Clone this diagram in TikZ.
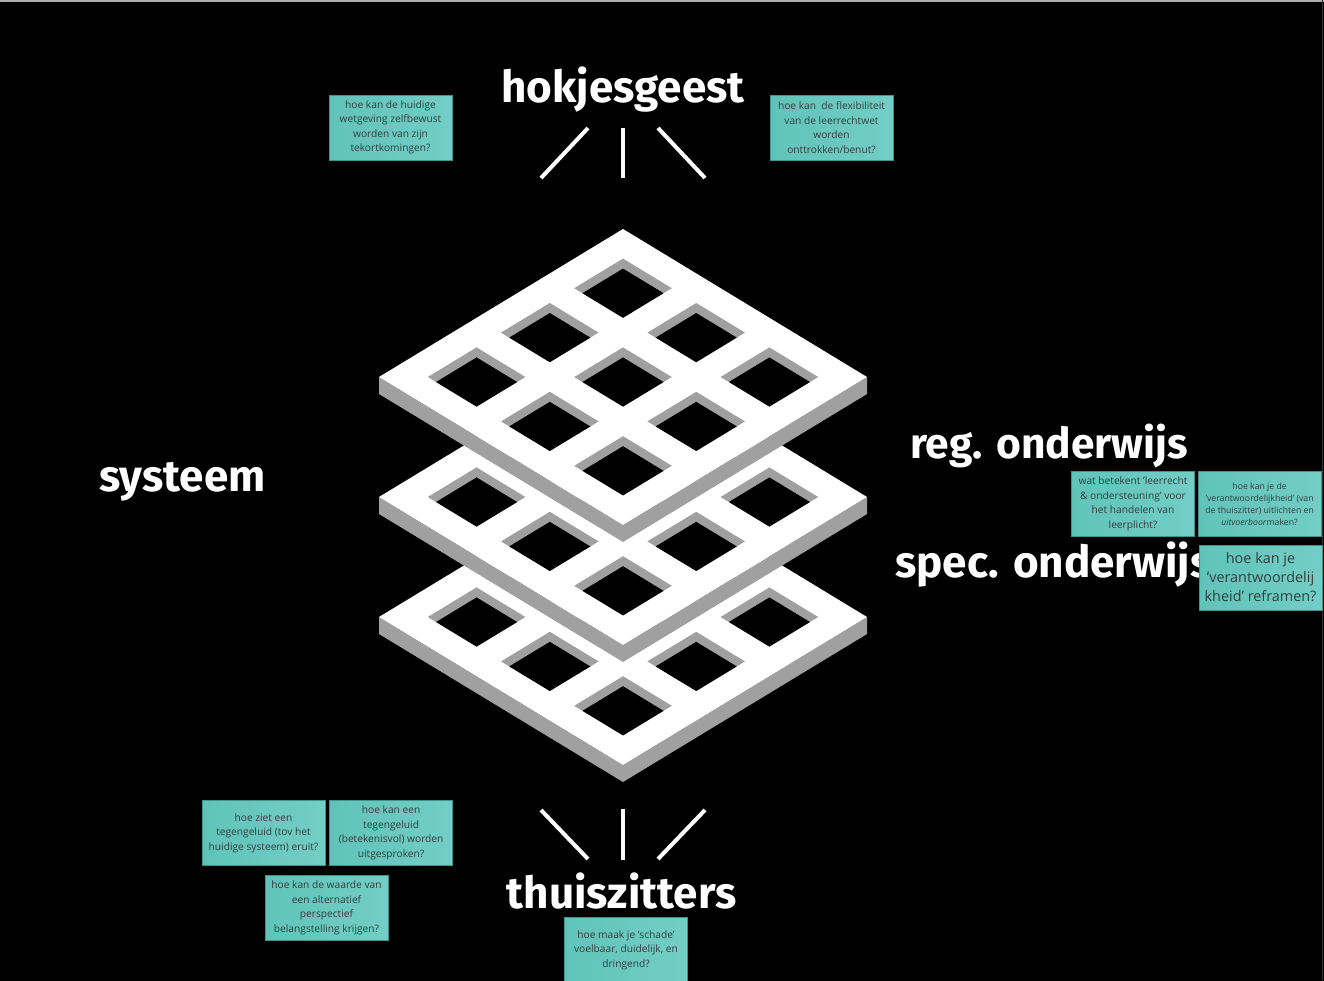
\documentclass[tikz,border=0pt]{standalone}
\usepackage{fontspec}
\setmainfont{Open Sans}
\newfontfamily\kopfont{Fira Sans}
\usepackage{tikz}
\usetikzlibrary{positioning,calc}
\definecolor{notekleur}{RGB}{96,195,186}
\definecolor{notelicht}{RGB}{114,206,198}
\definecolor{noterand}{RGB}{62,148,140}
\definecolor{notetekst}{RGB}{52,62,62}
\definecolor{wand}{RGB}{160,160,160}
\newcommand{\laag}[1]{%
\begin{scope}[shift={(623,229+#1)},x={(244pt,-148pt)},y={(-244pt,-148pt)}]
\fill[wand] (0,1) -- (1,1) -- (1,0) -- ([yshift=-17pt]1,0) -- ([yshift=-17pt]1,1) -- ([yshift=-17pt]0,1) -- cycle;
\fill[white] (0,0) -- (1,0) -- (1,1) -- (0,1) -- cycle;
\foreach \i in {0,1,2}{\foreach \j in {0,1,2}{
\pgfmathsetmacro{\ua}{0.1+0.3*\i}\pgfmathsetmacro{\ub}{\ua+0.2}
\pgfmathsetmacro{\va}{0.1+0.3*\j}\pgfmathsetmacro{\vb}{\va+0.2}
\fill[wand] (\ua,\va) -- (\ub,\va) -- (\ub,\vb) -- (\ua,\vb) -- cycle;
\begin{scope}
\clip (\ua,\va) -- (\ub,\va) -- (\ub,\vb) -- (\ua,\vb) -- cycle;
\fill[black] ([yshift=-10pt]\ua,\va) -- ([yshift=-10pt]\ub,\va) -- ([yshift=-10pt]\ub,\vb) -- ([yshift=-10pt]\ua,\vb) -- cycle;
\end{scope}}}
\end{scope}}

\begin{document}
\begin{tikzpicture}[x=1pt,y=-1pt,
  notitie/.style={draw=noterand,line width=0.6pt,left color=notekleur,right color=notelicht,text=notetekst,align=center,minimum width=123pt,minimum height=65pt,inner sep=1pt,font=\fontsize{10.2}{14.5}\selectfont},
  kop/.style={text=white,inner sep=0pt,anchor=base,font=\kopfont\bfseries\fontsize{44}{50}\selectfont},
  straal/.style={white,line width=4pt}]
\useasboundingbox (0,0) rectangle (1324,980);
\fill[black] (-3,-3) rectangle (1327,983);
\draw[gray!65,line width=1.5pt] (0,0.75) -- (1324,0.75);
\draw[gray!40!black,line width=1.5pt] (1322.5,0) -- (1322.5,980);
% drie lagen, onderste eerst
\laag{240}
\laag{120}
\laag{0}
% koppen
\node[kop] (hok) at (623,102.5) {hokjesgeest};
\node[kop] (sys) at (182.5,491.5) {systeem};
\node[kop,font=\kopfont\bfseries\fontsize{42.5}{50}\selectfont] (reg) at (1049,458) {reg. onderwijs};
\node[kop,anchor=base west] (spec) at (895,577) {spec. onderwijs};
\node[kop] (thuis) at (621.5,908) {thuiszitters};
% stralen
\coordinate (b1) at (588,128); \coordinate (e1) at (541,178);
\coordinate (b2) at (623,128); \coordinate (e2) at (623,178);
\coordinate (b3) at (658,128); \coordinate (e3) at (705,178);
\coordinate (b4) at (541,810); \coordinate (e4) at (588,859);
\coordinate (b5) at (623,809); \coordinate (e5) at (623,860);
\coordinate (b6) at (705,810); \coordinate (e6) at (658,859);
\draw[straal] (b1) -- (e1);
\draw[straal] (b2) -- (e2);
\draw[straal] (b3) -- (e3);
\draw[straal] (b4) -- (e4);
\draw[straal] (b5) -- (e5);
\draw[straal] (b6) -- (e6);
% notities
\node[notitie] (v1) at (390.5,127.5) {hoe kan de huidige\\wetgeving zelfbewust\\worden van zijn\\tekortkomingen?};
\node[notitie] (v2) at (831.5,127.5) {hoe kan\ \ de flexibiliteit\\van de leerrechtwet\\worden\\onttrokken/benut?};
\node[notitie] (v3) at (1133,504) {wat betekent 'leerrecht\\\& ondersteuning' voor\\het handelen van\\leerplicht?};
\node[notitie,right=3pt of v3,font=\fontsize{8.7}{12}\selectfont] (v4) {hoe kan je de\\'verantwoordelijkheid' (van\\de thuiszitter) uitlichten en\\\textit{uitvoerboor}maken?};
\node[notitie,font=\fontsize{14.4}{19}\selectfont] (v5) at (1260.5,577.5) {hoe kan je\\'verantwoordelij\\kheid' reframen?};
\node[notitie] (v6) at (263.5,833) {hoe ziet een\\tegengeluid (tov het\\huidige systeem) eruit?};
\node[notitie,right=4pt of v6] (v7) {hoe kan een\\tegengeluid\\(betekenisvol) worden\\uitgesproken?};
\node[notitie] (v8) at (326.5,908) {hoe kan de waarde van\\een alternatief\\perspectief\\belangstelling krijgen?};
\node[notitie] (v9) at (626,950) {hoe maak je 'schade'\\voelbaar, duidelijk, en\\dringend?};
\end{tikzpicture}
\end{document}
